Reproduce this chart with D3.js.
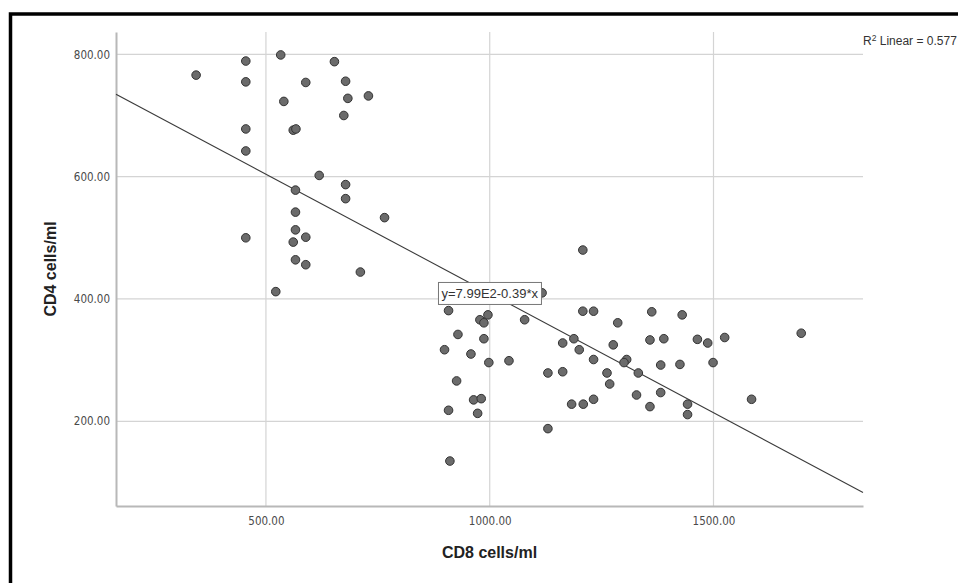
<!DOCTYPE html>
<html>
<head>
<meta charset="utf-8">
<script src="https://cdn.jsdelivr.net/npm/d3@7"></script>
<style>
    html, body { margin: 0; padding: 0; background: #fff; }
    svg { display: block; font-family: "Liberation Sans", Arial, sans-serif; }
</style>
</head>
<body>
<div id="chart"></div>
<script>
// CD8 vs CD4 scatter with linear fit
const cd8 = [344, 455, 455, 533, 589, 540, 455, 561, 567, 455, 619, 566, 653, 678, 683, 729, 674, 678, 678,
    455, 566, 566, 589, 561, 566, 589, 522, 765, 711,
    1208, 1117, 908, 996, 978, 987, 1078, 1208, 1232, 1286, 929, 987, 1188, 1163, 1200, 1276, 899, 958, 998,
    1043, 1232, 1130, 1163, 1262, 926,
    1362, 1430, 1358, 1389, 1464, 1487, 1525, 1696, 1306, 1300, 1382, 1425, 1499, 1332,
    964, 981, 908, 973, 911, 1130, 1183, 1209, 1232, 1268, 1328, 1382, 1358, 1442, 1442, 1585];
const cd4 = [766, 789, 755, 799, 754, 723, 678, 676, 678, 642, 602, 578, 788, 756, 728, 732, 700, 587, 564,
    500, 542, 513, 501, 493, 464, 456, 412, 533, 444,
    480, 410, 381, 374, 366, 361, 366, 380, 380, 361, 342, 335, 335, 328, 317, 325, 317, 310, 296,
    299, 301, 279, 281, 279, 266,
    379, 374, 333, 335, 334, 328, 337, 344, 301, 296, 292, 293, 296, 279,
    235, 237, 218, 213, 135, 188, 228, 228, 236, 261, 243, 247, 224, 228, 211, 236];

const xTicks = [500, 1000, 1500];
const yTicks = [200, 400, 600, 800];
const fitIntercept = 799;
const fitSlope = -0.39;
const fitLabel = "y=7.99E2-0.39*x";
const r2Value = "0.577";

const width = 958, height = 583;
const plot = { left: 116, right: 863, top: 32, bottom: 506 };

const svg = d3.select("#chart").append("svg")
    .attr("width", width)
    .attr("height", height);

// outer black frame (only top and left edges are inside the picture)
svg.append("path")
    .attr("d", `M10.5,${height} V14 H${width}`)
    .attr("fill", "none")
    .attr("stroke", "#000")
    .attr("stroke-width", 3.5);

const xScale = d3.scaleLinear().domain([165, 1834]).range([plot.left, plot.right]);
const yScale = d3.scaleLinear().domain([61.5, 836.5]).range([plot.bottom, plot.top]);

// grid lines
svg.append("g").selectAll("line").data(yTicks).enter().append("line")
    .attr("x1", plot.left).attr("x2", plot.right)
    .attr("y1", d => yScale(d)).attr("y2", d => yScale(d))
    .attr("stroke", "#d4d4d4").attr("stroke-width", 1.2);

svg.append("g").selectAll("line").data(xTicks).enter().append("line")
    .attr("x1", d => xScale(d)).attr("x2", d => xScale(d))
    .attr("y1", plot.top).attr("y2", plot.bottom)
    .attr("stroke", "#d4d4d4").attr("stroke-width", 1.2);

// axes
const xAxis = svg.append("g")
    .attr("transform", `translate(0,${plot.bottom})`)
    .call(d3.axisBottom(xScale).tickValues(xTicks).tickSize(0).tickPadding(11).tickFormat(d3.format(".2f")));
const yAxis = svg.append("g")
    .attr("transform", `translate(${plot.left},0)`)
    .call(d3.axisLeft(yScale).tickValues(yTicks).tickSize(0).tickPadding(6).tickFormat(d3.format(".2f")));

[xAxis, yAxis].forEach(ax => {
    ax.select(".domain").attr("stroke", "#b8b8b8").attr("stroke-width", 2);
    ax.selectAll("text")
        .attr("fill", "#4a4a4a")
        .style("font-size", "11.5px")
        .style("font-family", "\"DejaVu Sans Condensed\", \"Liberation Sans\", sans-serif");
});

// fit line
const fitLine = d3.line()
    .x(d => xScale(d))
    .y(d => yScale(fitIntercept + fitSlope * d));
svg.append("path")
    .datum(xScale.domain())
    .attr("d", fitLine)
    .attr("fill", "none")
    .attr("stroke", "#3a3a3a")
    .attr("stroke-width", 1.1);

// points
const points = cd8.map((x, i) => ({ x: x, y: cd4[i] }));
svg.append("g").selectAll("circle").data(points).enter().append("circle")
    .attr("cx", d => xScale(d.x))
    .attr("cy", d => yScale(d.y))
    .attr("r", 4.3)
    .attr("fill", "#6b6b6b")
    .attr("stroke", "#333")
    .attr("stroke-width", 1);

// equation label, centred on the fit line at x = 1000
const labelX = 1000;
const eq = svg.append("g")
    .attr("transform", `translate(${xScale(labelX)},${yScale(fitIntercept + fitSlope * labelX)})`);
const eqText = eq.append("text")
    .attr("text-anchor", "middle")
    .attr("dy", "0.35em")
    .attr("fill", "#333")
    .style("font-size", "13px")
    .text(fitLabel);
const bb = eqText.node().getBBox();
eq.insert("rect", "text")
    .attr("x", bb.x - 3).attr("y", -11)
    .attr("width", bb.width + 6).attr("height", 22)
    .attr("fill", "#fff")
    .attr("stroke", "#777")
    .attr("stroke-width", 1);

// R squared note
const r2 = svg.append("text")
    .attr("x", plot.right)
    .attr("y", 45)
    .attr("fill", "#333")
    .style("font-size", "12px");
r2.append("tspan").text("R");
r2.append("tspan").attr("dy", -4.5).style("font-size", "8.5px").text("2");
r2.append("tspan").attr("dy", 4.5).text(" Linear = " + r2Value);

// axis titles
svg.append("text")
    .attr("x", (plot.left + plot.right) / 2)
    .attr("y", 558)
    .attr("text-anchor", "middle")
    .attr("fill", "#222")
    .style("font-size", "16px")
    .style("font-weight", "bold")
    .text("CD8 cells/ml");

svg.append("text")
    .attr("transform", `translate(56,${(plot.top + plot.bottom) / 2}) rotate(-90)`)
    .attr("text-anchor", "middle")
    .attr("fill", "#222")
    .style("font-size", "16px")
    .style("font-weight", "bold")
    .text("CD4 cells/ml");
</script>
</body>
</html>
